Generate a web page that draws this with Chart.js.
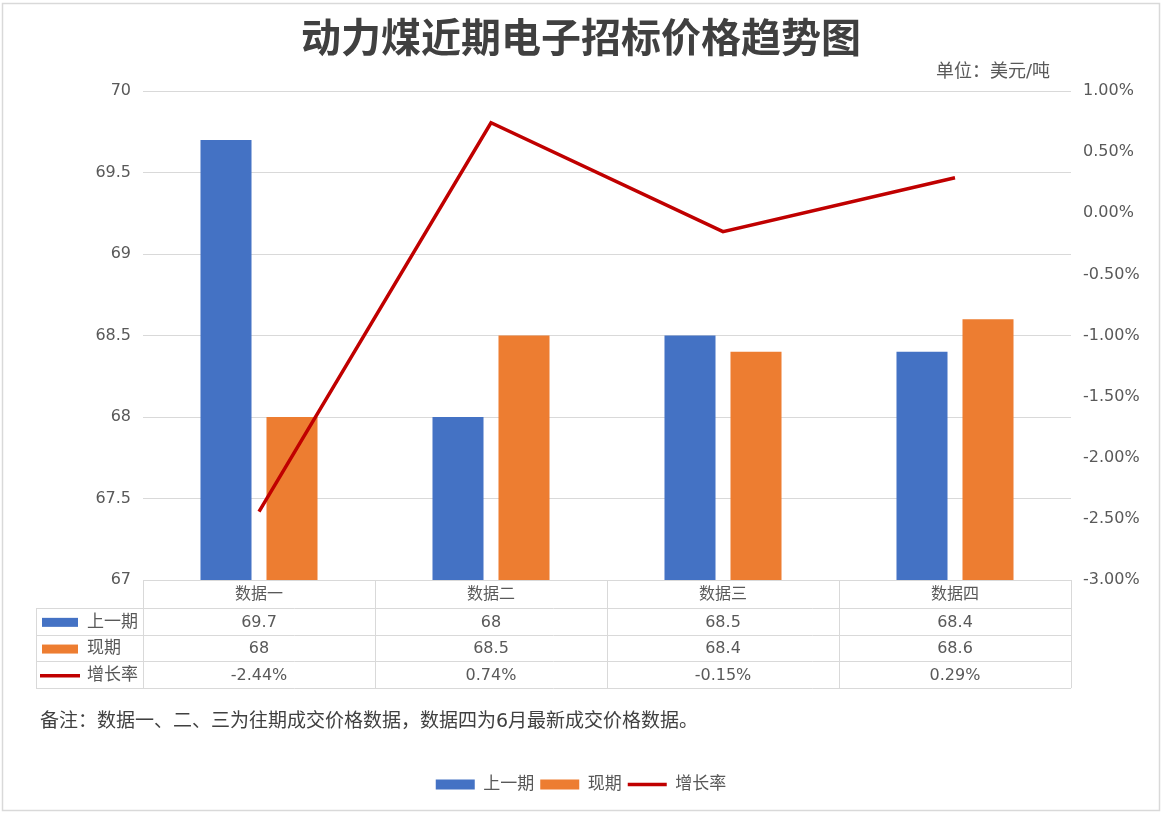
<!DOCTYPE html>
<html>
<head>
<meta charset="utf-8">
<script src="https://cdn.jsdelivr.net/npm/chart.js@4.4.1/dist/chart.umd.min.js"></script>
<style>
  html, body { margin: 0; padding: 0; background: #fff; }
  #wrap { width: 1162px; height: 814px; }
</style>
</head>
<body>
<div id="wrap"><canvas id="myChart" width="1162" height="814"></canvas></div>
<script>
const categories = ["数据一", "数据二", "数据三", "数据四"];
const lastPeriod = [69.7, 68, 68.5, 68.4];
const thisPeriod = [68, 68.5, 68.4, 68.6];
const growthRate = [-2.44, 0.74, -0.15, 0.29];
const seriesNames = ["上一期", "现期", "增长率"];
const titleText = "动力煤近期电子招标价格趋势图";
const unitText = "单位：美元/吨";
const noteText = "备注：数据一、二、三为往期成交价格数据，数据四为6月最新成交价格数据。";

const FONT = '"DejaVu Sans", "Noto Sans CJK SC", sans-serif';
const GRAY = "#595959";
const LINE = "#d9d9d9";

const tablePlugin = {
    id: "dataTable",
    afterDraw: (chart) => {
        const ctx = chart.ctx;
        const area = chart.chartArea;
        const x = chart.scales.x;
        const catW = area.width / categories.length;
        const top = area.bottom;
        const headH = 28;
        const rowH = 26.7;
        const tableLeft = 36;
        const bottom = top + headH + rowH * 3;

        ctx.save();
        ctx.strokeStyle = LINE;
        ctx.lineWidth = 1;
        ctx.beginPath();
        // header
        ctx.moveTo(area.left, top + 0.5);
        ctx.lineTo(area.right, top + 0.5);
        for (let r = 0; r <= 3; r++) {
            const y = Math.round(top + headH + r * rowH) + 0.5;
            ctx.moveTo(tableLeft, y);
            ctx.lineTo(area.right, y);
        }
        ctx.moveTo(tableLeft + 0.5, top + headH);
        ctx.lineTo(tableLeft + 0.5, bottom);
        for (let i = 0; i <= categories.length; i++) {
            const cx = Math.round(area.left + i * catW) + 0.5;
            ctx.moveTo(cx, top);
            ctx.lineTo(cx, bottom);
        }
        ctx.stroke();

        ctx.fillStyle = GRAY;
        ctx.textAlign = "center";
        ctx.textBaseline = "middle";
        ctx.font = "16px " + FONT;
        categories.forEach((c, i) => {
            ctx.fillText(c, x.getPixelForValue(i), top + headH / 2 + 1);
        });
        const rows = [
            lastPeriod.map((v) => String(v)),
            thisPeriod.map((v) => String(v)),
            growthRate.map((v) => v.toFixed(2) + "%"),
        ];
        rows.forEach((vals, r) => {
            const cy = top + headH + r * rowH + rowH / 2 + 1;
            ctx.textAlign = "center";
            ctx.font = "16px " + FONT;
            ctx.fillStyle = GRAY;
            vals.forEach((v, i) => ctx.fillText(v, x.getPixelForValue(i), cy));
            // legend key
            const ds = chart.data.datasets[r];
            if (ds.type === "line") {
                ctx.strokeStyle = ds.borderColor;
                ctx.lineWidth = 3.5;
                ctx.beginPath();
                ctx.moveTo(40, cy);
                ctx.lineTo(80, cy);
                ctx.stroke();
            } else {
                ctx.fillStyle = ds.backgroundColor;
                ctx.fillRect(42, cy - 4.5, 36, 9);
            }
            ctx.fillStyle = GRAY;
            ctx.textAlign = "left";
            ctx.font = "17px " + FONT;
            ctx.fillText(ds.label, 87, cy);
        });

        // unit text and note
        ctx.fillStyle = GRAY;
        ctx.textAlign = "right";
        ctx.font = "18px " + FONT;
        ctx.fillText(unitText, 1050, 72);
        ctx.textAlign = "left";
        ctx.font = "19px " + FONT;
        ctx.fillStyle = "#404040";
        ctx.fillText(noteText, 40, 722);

        // outer border
        ctx.strokeStyle = LINE;
        ctx.lineWidth = 1.5;
        ctx.strokeRect(2.5, 3.5, 1157, 807);
        ctx.restore();
    },
};

const ctx = document.getElementById("myChart").getContext("2d");
const chart = new Chart(ctx, {
    type: "bar",
    data: {
        labels: categories,
        datasets: [
            {
                label: seriesNames[0],
                data: lastPeriod,
                backgroundColor: "#4472C4",
                yAxisID: "y",
                pointStyle: "rect",
                order: 2,
            },
            {
                label: seriesNames[1],
                data: thisPeriod,
                backgroundColor: "#ED7D31",
                yAxisID: "y",
                pointStyle: "rect",
                order: 2,
            },
            {
                type: "line",
                label: seriesNames[2],
                data: growthRate,
                borderColor: "#C00000",
                backgroundColor: "#C00000",
                borderWidth: 3.5,
                pointRadius: 0,
                pointStyle: "line",
                tension: 0,
                yAxisID: "y1",
                order: 1,
            },
        ],
    },
    options: {
        responsive: false,
        animation: false,
        datasets: {
            bar: {
                categoryPercentage: 0.569,
                barPercentage: 0.773,
            },
        },
        layout: {
            padding: { left: 2, right: 2, top: 0, bottom: 11 },
        },
        plugins: {
            title: {
                display: true,
                text: titleText,
                color: "#404040",
                font: { family: FONT, size: 40, weight: "bold" },
                padding: { top: 18, bottom: 25 },
            },
            legend: {
                position: "bottom",
                labels: {
                    usePointStyle: true,
                    pointStyleWidth: 39,
                    boxHeight: 10,
                    padding: 6,
                    color: GRAY,
                    font: { family: FONT, size: 17 },
                    sort: (a, b) => a.datasetIndex - b.datasetIndex,
                },
            },
            tooltip: { enabled: false },
        },
        scales: {
            x: {
                grid: { display: false },
                border: { display: false },
                ticks: { display: false },
                afterFit: (scale) => {
                    scale.height = 190;
                },
            },
            y: {
                position: "left",
                min: 67,
                max: 70,
                grid: { color: LINE, drawTicks: false },
                border: { display: false },
                ticks: {
                    stepSize: 0.5,
                    padding: 12,
                    color: GRAY,
                    font: { family: FONT, size: 16 },
                    callback: (v) => String(Math.round(v * 10) / 10),
                },
                afterFit: (scale) => {
                    scale.width = 141;
                },
            },
            y1: {
                position: "right",
                min: -3,
                max: 1,
                grid: { display: false, drawTicks: false },
                border: { display: false },
                ticks: {
                    stepSize: 0.5,
                    padding: 12,
                    color: GRAY,
                    font: { family: FONT, size: 16 },
                    callback: (v) => v.toFixed(2) + "%",
                },
                afterFit: (scale) => {
                    scale.width = 89;
                },
            },
        },
    },
    plugins: [tablePlugin],
});
</script>
</body>
</html>
